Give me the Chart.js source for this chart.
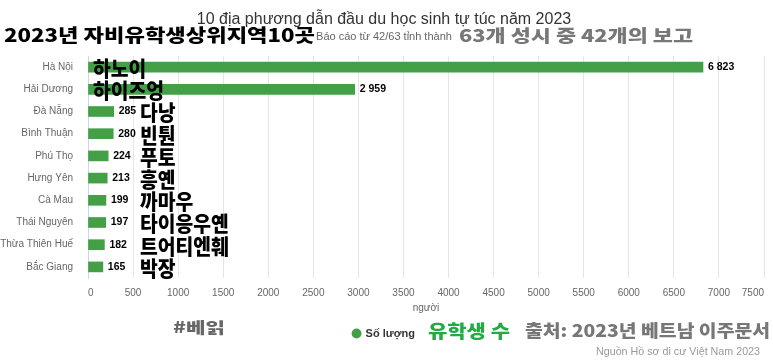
<!DOCTYPE html>
<html>
<head>
<meta charset="utf-8">
<script src="https://cdn.jsdelivr.net/npm/chart.js@4/dist/chart.umd.min.js"></script>
<style>
  html, body { margin: 0; padding: 0; background: #ffffff; }
  #wrap { width: 773px; height: 360px; }
</style>
</head>
<body>
<div id="wrap"><canvas id="c" width="773" height="360"></canvas></div>
<script>
// ---- data ----
const categories = ['Hà Nội', 'Hải Dương', 'Đà Nẵng', 'Bình Thuận', 'Phú Thọ', 'Hưng Yên', 'Cà Mau', 'Thái Nguyên', 'Thừa Thiên Huế', 'Bắc Giang'];
const koreanNames = ['하노이', '하이즈엉', '다낭', '빈퉌', '푸토', '흥옌', '까마우', '타이응우옌', '트어티엔훼', '박장'];
const studentCounts = [6823, 2959, 285, 280, 224, 213, 199, 197, 182, 165];
const xTickValues = [0, 500, 1000, 1500, 2000, 2500, 3000, 3500, 4000, 4500, 5000, 5500, 6000, 6500, 7000, 7500];
const seriesName = 'Số lượng';
const chartTitle = '10 địa phương dẫn đầu du học sinh tự túc năm 2023';
const chartSubtitle = 'Báo cáo từ 42/63 tỉnh thành';
const axisTitle = 'người';
const creditText = 'Nguồn Hồ sơ di cư Việt Nam 2023';
const koTitle = '2023년 자비유학생상위지역10곳';
const koSubtitle = '63개 성시 중 42개의 보고';
const koTag = '#베읽';
const koLegend = '유학생 수';
const koSource = '출처: 2023년 베트남 이주문서';

// ---- styles ----
const LATIN = "'Liberation Sans', Arial, sans-serif";
const KR = "'Noto Sans CJK KR', sans-serif";
const BAR = '#43a047';

Chart.defaults.font.family = LATIN;

function fmt(v) { return String(v).replace(/\B(?=(\d{3})+(?!\d))/g, ' '); }

function drawFit(ctx, text, x, y, size, opts) {
  ctx.save();
  ctx.font = (opts.weight || 'bold') + ' ' + size + 'px ' + (opts.family || KR);
  ctx.fillStyle = opts.color || '#000';
  ctx.textBaseline = opts.baseline || 'alphabetic';
  ctx.textAlign = 'left';
  const w = ctx.measureText(text).width;
  const s = opts.width ? opts.width / w : (opts.scale || 1);
  const drawX = opts.align === 'right' ? x - w * s : x;
  ctx.translate(drawX, y);
  ctx.scale(s, 1);
  ctx.fillText(text, 0, 0);
  ctx.restore();
}

const overlayPlugin = {
  id: 'overlay',
  afterDatasetsDraw(chart) {
    const ctx = chart.ctx;
    const meta = chart.getDatasetMeta(0);
    const xs = chart.scales.x;
    const x0 = xs.getPixelForValue(0);
    // value labels
    ctx.save();
    ctx.font = 'bold 10.5px ' + LATIN;
    ctx.fillStyle = '#000';
    ctx.textBaseline = 'middle';
    ctx.textAlign = 'left';
    meta.data.forEach((bar, i) => {
      ctx.fillText(fmt(studentCounts[i]), bar.x + 5, bar.y);
    });
    ctx.restore();
    // korean name annotations
    meta.data.forEach((bar, i) => {
      const x = studentCounts[i] > 1000 ? x0 + 5 : x0 + 52;
      drawFit(ctx, koreanNames[i], x, bar.y + 1, 21, { scale: 0.92, baseline: 'middle', color: '#000', weight: '900' });
    });
  },
  afterDraw(chart) {
    const ctx = chart.ctx;
    drawFit(ctx, koTitle, 4, 42, 18, { width: 311, color: '#000', weight: '900' });
    drawFit(ctx, koSubtitle, 459, 41.5, 17, { width: 234, color: '#777', weight: '900' });
    drawFit(ctx, koTag, 173, 327, 15, { width: 52, color: '#666', baseline: 'middle', weight: '900' });
    drawFit(ctx, koLegend, 428, 331, 18, { width: 82, color: '#22aa44', baseline: 'middle', weight: '900' });
    drawFit(ctx, koSource, 525, 331, 17, { width: 245, color: '#777', baseline: 'middle', weight: '900' });
    drawFit(ctx, creditText, 760, 352, 11, { width: 164, color: '#999', baseline: 'middle', weight: 'normal', family: LATIN, align: 'right' });
  }
};

new Chart(document.getElementById('c'), {
  type: 'bar',
  data: {
    labels: categories,
    datasets: [{
      label: seriesName,
      data: studentCounts,
      backgroundColor: BAR,
      borderWidth: 0,
      barThickness: 10
    }]
  },
  options: {
    indexAxis: 'y',
    responsive: false,
    devicePixelRatio: 1,
    animation: false,
    layout: { padding: { left: 0, right: 5, top: 0, bottom: 11 } },
    scales: {
      x: {
        min: 0, max: 7500,
        afterBuildTicks: s => { s.ticks = xTickValues.map(v => ({ value: v })); },
        afterFit: s => { s.height = 40; },
        ticks: { align: 'inner', padding: 9, color: '#666', font: { size: 10 }, maxRotation: 0, autoSkip: false, callback: v => String(v) },
        grid: { color: '#e6e6e6', drawTicks: false },
        border: { display: false },
        title: { display: true, text: axisTitle, color: '#666', font: { size: 10 }, padding: { top: 2, bottom: 4 } }
      },
      y: {
        afterFit: s => { s.width = 88; },
        ticks: { padding: 15, color: '#666', font: { size: 10 } },
        grid: { display: false, drawTicks: false },
        border: { display: true, color: '#ccd6eb', width: 1 }
      }
    },
    plugins: {
      title: { display: true, text: chartTitle, color: '#333', font: { size: 16, weight: 'normal' }, padding: { top: 10, bottom: 1 } },
      subtitle: { display: true, text: chartSubtitle, color: '#666', font: { size: 11 }, padding: { top: 0, bottom: 12.6 } },
      legend: {
        display: true, position: 'bottom',
        labels: { usePointStyle: true, pointStyle: 'circle', boxWidth: 7, boxHeight: 7, padding: 10, color: '#333', font: { size: 11, weight: 'bold' } }
      },
      tooltip: { enabled: false }
    }
  },
  plugins: [overlayPlugin]
});
</script>
</body>
</html>
